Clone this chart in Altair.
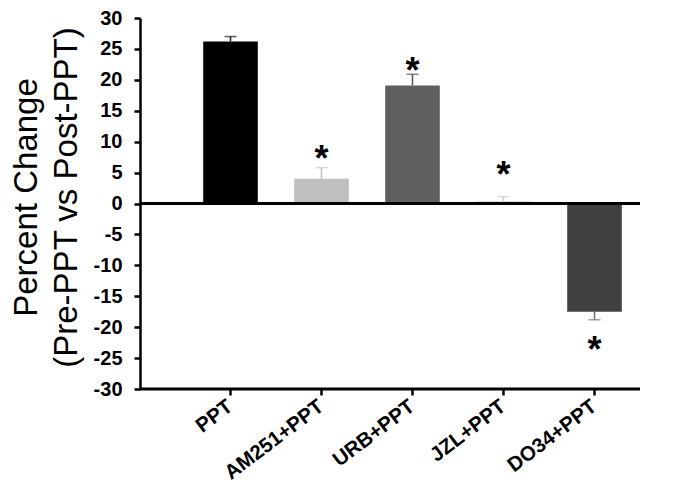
import altair as alt
import pandas as pd

categories = ["PPT", "AM251+PPT", "URB+PPT", "JZL+PPT", "DO34+PPT"]
values = [26.2, 4.0, 19.1, 0.4, -17.5]
errors = [0.8, 1.8, 1.8, 0.7, 1.3]
bar_colors = ["#000000", "#bfbfbf", "#5f5f5f", "#dedede", "#404040"]
err_colors = ["#222222", "#c4c4c4", "#5a5a5a", "#cfcfcf", "#777777"]
star_y = [None, 7.8, 22.1, 5.2, -23.0]
y_ticks = list(range(-30, 31, 5))

rows = []
for c, v, e, bc, ec, s in zip(categories, values, errors, bar_colors, err_colors, star_y):
    sign = 1 if v >= 0 else -1
    rows.append({"cat": c, "val": v, "err_end": v + sign * e, "bc": bc, "ec": ec, "star": s})
df = pd.DataFrame(rows)
stars = df.dropna(subset=["star"])

FONT = "Liberation Sans"
xscale = alt.Scale(domain=categories, range=[45, 500], paddingInner=0.4, paddingOuter=0.2)
yscale = alt.Scale(domain=[-30, 30], nice=False, zero=False)

x_axis = alt.Axis(title=None, labelAngle=-37, labelAlign="right", labelBaseline="middle",
                  labelFont=FONT, labelFontWeight="bold", labelFontSize=20.5, labelColor="#000000",
                  labelPadding=9, tickSize=6, tickWidth=2.5, tickColor="#000000",
                  labelOverlap=False, labelBound=False, labelFlush=False,
                  domain=False, grid=False)
y_axis = alt.Axis(title=["Percent Change", "(Pre-PPT vs Post-PPT)"], values=y_ticks,
                  labelExpr="toString(datum.value)", labelOverlap=False, labelFlush=False,
                  labelBound=False,
                  labelFont=FONT, labelFontWeight="bold", labelFontSize=20, labelColor="#000000",
                  labelPadding=12, tickSize=6, tickWidth=2.5, tickColor="#000000",
                  domainColor="#000000", domainWidth=2.5, grid=False,
                  titleFont=FONT, titleFontWeight="normal", titleFontSize=33,
                  titleColor="#000000", titleLineHeight=40, titleAngle=-90,
                  titleX=-104, titleY=179, titleAlign="center", titleBaseline="alphabetic")

def X():
    return alt.X("cat:N", scale=xscale, sort=categories, axis=x_axis)

def Y(field):
    return alt.Y(field, scale=yscale, axis=y_axis)

base = alt.Chart(df)
bars = base.mark_bar().encode(x=X(), y=Y("val:Q"), color=alt.Color("bc:N", scale=None))
errs = base.mark_rule(strokeWidth=1.6).encode(
    x=X(), y=Y("val:Q"), y2="err_end:Q", color=alt.Color("ec:N", scale=None))
caps = base.mark_tick(size=12, thickness=1.6).encode(
    x=X(), y=Y("err_end:Q"), color=alt.Color("ec:N", scale=None))
star_text = alt.Chart(stars).mark_text(text="*", font=FONT, fontWeight="bold", fontSize=36,
                                        baseline="alphabetic", dy=16, color="#000000").encode(
    x=X(), y=Y("star:Q"))
zero_rule = alt.Chart(pd.DataFrame({"z": [0]})).mark_rule(color="#000000", strokeWidth=3).encode(
    y=Y("z:Q"))
bottom_rule = alt.Chart(pd.DataFrame({"b": [-30]})).mark_rule(color="#000000", strokeWidth=3).encode(
    y=Y("b:Q"))

chart = alt.layer(bars, errs, caps, star_text, zero_rule, bottom_rule).properties(
    width=500, height=371,
    autosize=alt.AutoSizeParams(type="none"),
    padding={"left": 132, "top": 10, "right": 30, "bottom": 94},
).configure(background="#ffffff").configure_view(strokeWidth=0)

chart.save("out.html", embed_options={"renderer": "svg", "actions": False})
